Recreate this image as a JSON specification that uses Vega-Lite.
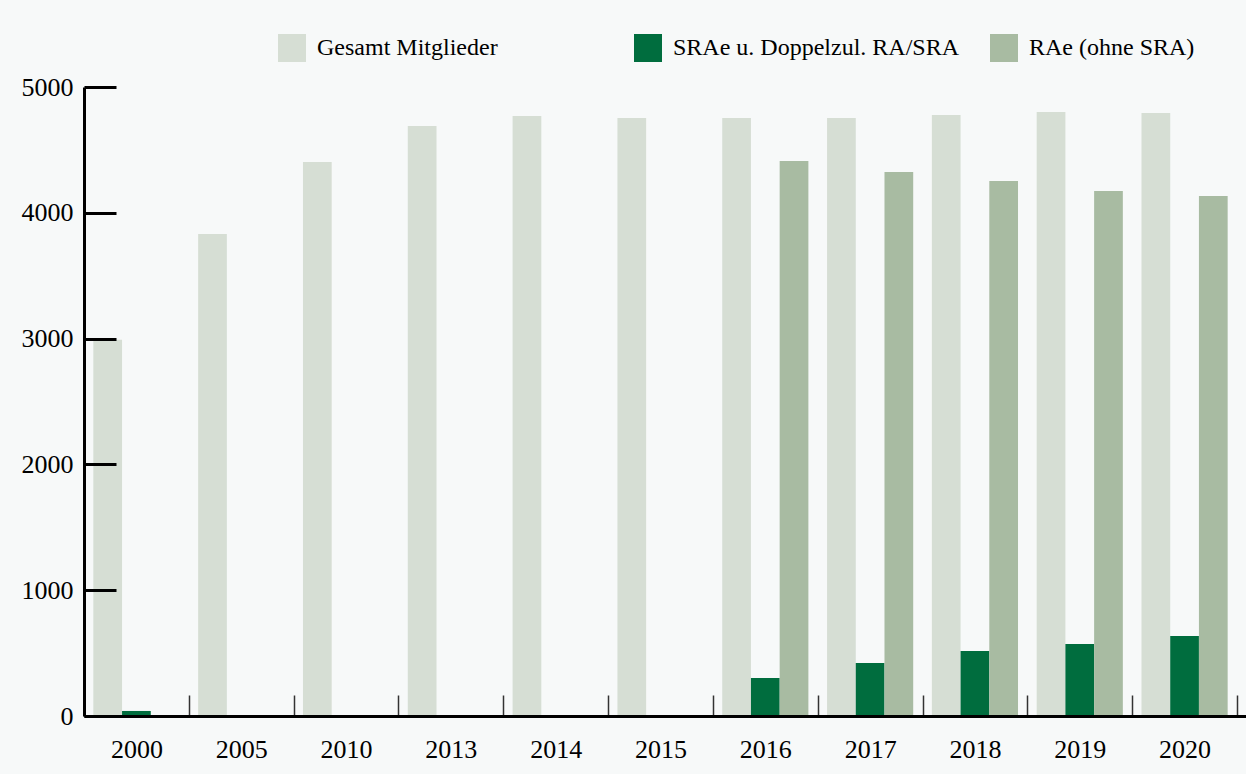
{
  "$schema": "https://vega.github.io/schema/vega-lite/v6.json",
  "width": 1162,
  "height": 629,
  "autosize": {"type": "none"},
  "padding": {"left": 84, "top": 87, "right": 0, "bottom": 58},
  "background": "#f7f9f9",
  "config": {
    "view": {"stroke": null},
    "font": "Liberation Serif"
  },
  "data": {
    "values": [
      {"year": "2000", "series": "Gesamt Mitglieder", "value": 2990},
      {"year": "2000", "series": "SRAe u. Doppelzul. RA/SRA", "value": 40},
      {"year": "2005", "series": "Gesamt Mitglieder", "value": 3831},
      {"year": "2010", "series": "Gesamt Mitglieder", "value": 4404},
      {"year": "2013", "series": "Gesamt Mitglieder", "value": 4690},
      {"year": "2014", "series": "Gesamt Mitglieder", "value": 4770},
      {"year": "2015", "series": "Gesamt Mitglieder", "value": 4754},
      {"year": "2016", "series": "Gesamt Mitglieder", "value": 4754},
      {"year": "2016", "series": "SRAe u. Doppelzul. RA/SRA", "value": 302},
      {"year": "2016", "series": "RAe (ohne SRA)", "value": 4412},
      {"year": "2017", "series": "Gesamt Mitglieder", "value": 4754},
      {"year": "2017", "series": "SRAe u. Doppelzul. RA/SRA", "value": 421},
      {"year": "2017", "series": "RAe (ohne SRA)", "value": 4324},
      {"year": "2018", "series": "Gesamt Mitglieder", "value": 4777},
      {"year": "2018", "series": "SRAe u. Doppelzul. RA/SRA", "value": 517},
      {"year": "2018", "series": "RAe (ohne SRA)", "value": 4253},
      {"year": "2019", "series": "Gesamt Mitglieder", "value": 4801},
      {"year": "2019", "series": "SRAe u. Doppelzul. RA/SRA", "value": 572},
      {"year": "2019", "series": "RAe (ohne SRA)", "value": 4173},
      {"year": "2020", "series": "Gesamt Mitglieder", "value": 4793},
      {"year": "2020", "series": "SRAe u. Doppelzul. RA/SRA", "value": 636},
      {"year": "2020", "series": "RAe (ohne SRA)", "value": 4134}
    ]
  },
  "mark": {"type": "bar"},
  "encoding": {
    "x": {
      "field": "year",
      "type": "nominal",
      "sort": null,
      "title": null,
      "scale": {"paddingInner": 0, "paddingOuter": 0.043, "align": 0},
      "axis": {
        "zindex": 1,
        "labelAngle": 0,
        "labelFont": "Liberation Serif",
        "labelFontSize": 26,
        "labelColor": "#000",
        "labelPadding": 41,
        "tickBand": "extent",
        "tickSize": -21,
        "tickWidth": 1.5,
        "tickColor": "#333",
        "domainColor": "#000",
        "domainWidth": 3,
        "grid": false
      }
    },
    "xOffset": {
      "field": "series",
      "type": "nominal",
      "sort": ["Gesamt Mitglieder", "SRAe u. Doppelzul. RA/SRA", "RAe (ohne SRA)"],
      "scale": {"paddingInner": 0, "paddingOuter": 0.325}
    },
    "y": {
      "field": "value",
      "type": "quantitative",
      "title": null,
      "scale": {"domain": [0, 5000], "nice": false},
      "axis": {
        "zindex": 1,
        "values": [0, 1000, 2000, 3000, 4000, 5000],
        "format": "d",
        "labelFont": "Liberation Serif",
        "labelFontSize": 26,
        "labelColor": "#000",
        "labelPadding": 43,
        "tickSize": -32,
        "tickWidth": 3,
        "tickColor": "#000",
        "domainColor": "#000",
        "domainWidth": 3,
        "grid": false
      }
    },
    "color": {
      "field": "series",
      "type": "nominal",
      "sort": ["Gesamt Mitglieder", "SRAe u. Doppelzul. RA/SRA", "RAe (ohne SRA)"],
      "scale": {
        "domain": ["Gesamt Mitglieder", "SRAe u. Doppelzul. RA/SRA", "RAe (ohne SRA)"],
        "range": ["#d6ded4", "#006d3e", "#a8bba2"]
      },
      "legend": {
        "title": null,
        "orient": "none",
        "legendX": 194,
        "legendY": -53,
        "direction": "horizontal",
        "symbolType": "square",
        "symbolSize": 784,
        "symbolStrokeWidth": 0,
        "symbolOpacity": 1,
        "labelFont": "Liberation Serif",
        "labelFontSize": 24,
        "labelColor": "#000",
        "labelOffset": 11,
        "labelLimit": 400,
        "columnPadding": 30,
        "gridAlign": "all"
      }
    }
  }
}
